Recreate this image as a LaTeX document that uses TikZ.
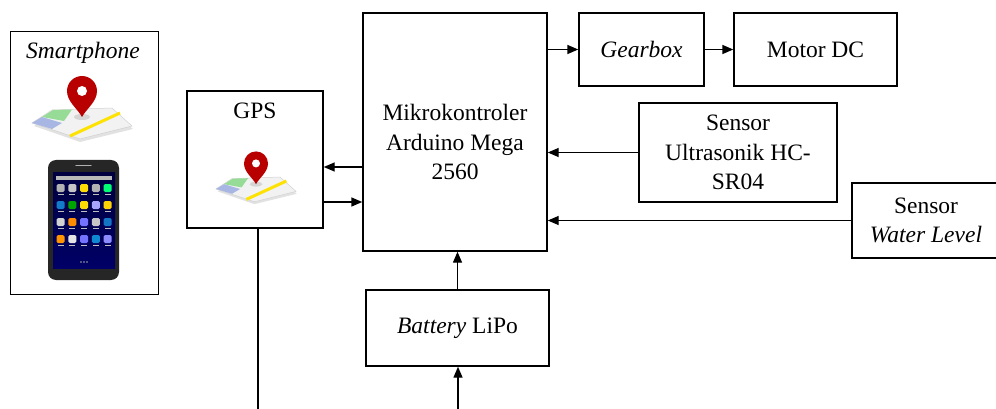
\documentclass[tikz,border=0pt]{standalone}
\usepackage{fontspec}
\setmainfont{Liberation Serif}
\usetikzlibrary{arrows.meta}
\begin{document}
\begin{tikzpicture}[x=1pt,y=-1pt,
  box/.style={draw, line width=1.4pt, inner sep=0pt, align=center, font=\fontsize{23.5}{29.5}\selectfont},
  lbl/.style={inner sep=0pt, align=center, font=\fontsize{23.5}{29.5}\selectfont},
  arr/.style={line width=1.4pt, -{Triangle[length=11pt,width=9pt]}},
  mapicon/.pic={
    \fill[gray!45, opacity=0.5] (-48,3) -- (-28,-10) -- (30,-12) -- (51,6) -- (-2,19) -- cycle;
    \fill[gray!10, draw=gray!35, line width=0.5pt] (-50,0) -- (-30,-13) -- (30,-15) -- (50,3) -- (-2,16) -- cycle;
    \fill[green!50!gray!55] (-40,-6) -- (-29,-13) -- (-10,-13.5) -- (-18,-2) -- cycle;
    \fill[cyan!40!blue!35] (-50,0) -- (-40,-6) -- (-20,0) -- (-30,6) -- cycle;
    \draw[yellow!85!orange, line width=3pt] (-12,13) -- (38,-10);
    \fill[gray!55, opacity=0.5] (0,-6) ellipse (8 and 3);
    \fill[red!72!black] (0,-6) .. controls (-4,-14) and (-15,-21) .. (-15,-32)
      arc[start angle=180, end angle=360, radius=15]
      .. controls (15,-21) and (4,-14) .. (0,-6) -- cycle;
    \fill[white] (0,-32) circle (5);
  }]
\useasboundingbox (0,0) rectangle (996,409);

% boxes
\node[box, minimum width=148pt, minimum height=263pt] (phonebox) at (84.5,163) {};
\node[box, minimum width=136pt, minimum height=137pt] (gps) at (255,159.5) {};
\node[box, minimum width=184pt, minimum height=238pt] (mcu) at (455,132) {};
\node[box, minimum width=125pt, minimum height=73pt] (gear) at (641.5,49.5) {\textit{Gearbox}};
\node[box, minimum width=163pt, minimum height=73pt] (motor) at (815.5,49.5) {Motor DC};
\node[box, minimum width=198pt, minimum height=99pt] (ultra) at (738,152.5) {Sensor\\Ultrasonik HC-\\SR04};
\node[box, minimum width=148pt, minimum height=75pt] (water) at (926,220.5) {Sensor\\\textit{Water Level}};
\node[box, minimum width=183pt, minimum height=76pt] (bat) at (457.5,328) {\textit{Battery} LiPo};

% labels
\node[lbl] (phonetxt) at (83,53) {\textit{Smartphone}};
\node[lbl] (gpstxt) at (255,111) {GPS};
\node[lbl] (mcutxt) at (455,142) {Mikrokontroler\\Arduino Mega\\2560};

% icons
\pic at (82,123) {mapicon};
\pic[scale=0.8] at (256,189) {mapicon};

% phone
\fill[black!85, rounded corners=8pt] (48,160) rectangle (119,280);
\draw[gray!60, line width=1.2pt, line cap=round] (76,165.5) -- (91,165.5);
\shade[top color=blue!25!black, bottom color=blue!40!black] (53,172) rectangle (115,268);
\fill[gray!55] (56,176) rectangle (112,180);
\foreach \c [count=\i from 0] in {gray!60, gray!45, yellow!80!orange, gray!60, green!55!cyan,
    cyan!60!blue, green!65!black, yellow!80!orange, blue!35!white, yellow!70!orange,
    gray!35, orange!90!yellow, blue!55!white, gray!45, cyan!55!blue,
    orange!85!yellow, gray!20, blue!55!white, cyan!70!blue, blue!45!white} {
  \pgfmathsetmacro{\cx}{60.5+11.8*mod(\i,5)}
  \pgfmathsetmacro{\cy}{188+17*int(\i/5)}
  \fill[\c, rounded corners=1.5pt] (\cx-4,\cy-4) rectangle (\cx+4,\cy+4);
  \fill[gray!50] (\cx-3,\cy+5.5) rectangle (\cx+3,\cy+6.5);
}
\foreach \dx in {-3,0,3} \fill[gray!70] (84+\dx,262) circle (0.8);

% connectors
\draw[arr] (mcu.east |- gear.west) -- (gear.west);
\draw[arr] (gear) -- (motor);
\draw[arr] (ultra.west) -- (ultra.west -| mcu.east);
\draw[arr] (water.west) -- (water.west -| mcu.east);
\path (gps.east) ++(0,7.5) coordinate (g1);
\path (gps.east) ++(0,42.5) coordinate (g2);
\draw[arr] (g1 -| mcu.west) -- (g1);
\draw[arr] (g2) -- (g2 -| mcu.west);
\draw[arr] (bat.north) -- (bat.north |- mcu.south);
\coordinate (batin) at (458,409);
\draw[arr] (batin) -- (batin |- bat.south);
\coordinate (gpsout) at (258,409);
\draw[line width=1.4pt] (gpsout |- gps.south) -- (gpsout);
\end{tikzpicture}
\end{document}
